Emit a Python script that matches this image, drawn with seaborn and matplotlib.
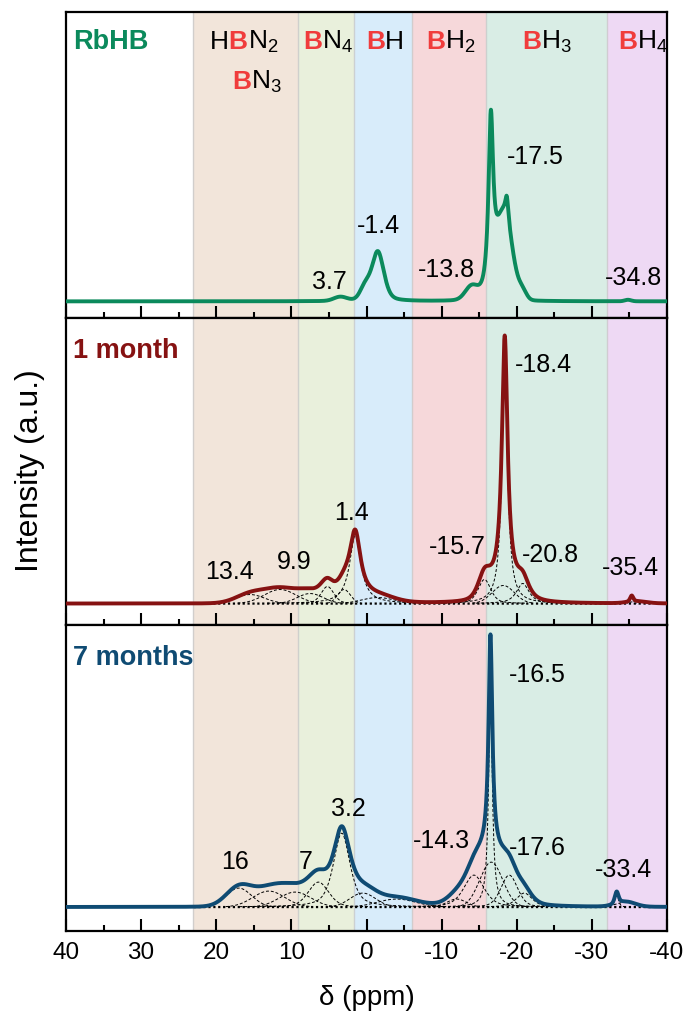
import numpy as np
import pandas as pd
import seaborn as sns
import matplotlib
matplotlib.use("Agg")
import matplotlib.pyplot as plt
from matplotlib.offsetbox import TextArea, HPacker, AnnotationBbox
from matplotlib.ticker import MultipleLocator, FixedLocator, FixedFormatter

sns.set_style("white")
plt.rcParams['font.family'] = ['Liberation Sans', 'DejaVu Sans']
plt.rcParams['mathtext.fontset'] = 'custom'
plt.rcParams['mathtext.rm'] = 'Liberation Sans'
plt.rcParams['mathtext.it'] = 'Liberation Sans:italic'
plt.rcParams['mathtext.bf'] = 'Liberation Sans:bold'
plt.rcParams['axes.unicode_minus'] = False
plt.rcParams['text.color'] = 'black'
plt.rcParams['xtick.color'] = 'black'
plt.rcParams['xtick.labelcolor'] = 'black'

# ---------------- data ----------------
tick_values = [40, 30, 20, 10, 0, -10, -20, -30, -40]
tick_labels = ["40", "30", "20", "10", "0", "-10", "-20", "-30", "-40"]

region_edges = [23.1, 9.1, 1.6, -6.0, -15.9, -32.0, -40.0]
region_names = [("H", "N", "2"), ("", "N", "4"), ("", "H", ""), ("", "H", "2"), ("", "H", "3"), ("", "H", "4")]
extra_region_name = ("", "N", "3")

sample_names = ["RbHB", "1 month", "7 months"]

# peak components: centre (ppm), height, FWHM (ppm), Lorentzian fraction
rbhb_centers = [3.5, 0.2, -1.5, -14.0, -16.55, -18.3, -18.68, -20.8, -34.8]
rbhb_heights = [4, 12, 50, 13, 168, 82, 23, 7, 1.5]
rbhb_widths = [2.0, 1.5, 1.9, 2.0, 0.75, 2.6, 0.5, 1.2, 1.0]
rbhb_eta = [0, 0, 0.4, 0, 1, 0, 1, 0, 0]

m1_centers = [15.5, 11.5, 7.5, 5.2, 3.0, 1.5, -1.5, -15.7, -18.2, -18.4, -20.8, -35.3, -36.0]
m1_heights = [9, 14, 10, 17, 14, 68, 6, 24, 18, 245, 20, 6, 2]
m1_widths = [4.5, 5.0, 4.0, 2.0, 2.0, 1.8, 5.0, 2.0, 3.5, 0.9, 2.0, 0.5, 3.0]
m1_eta = [0, 0, 0, 0.3, 0, 1, 0, 0.5, 0, 1, 0.8, 0.5, 0]

m7_centers = [17.0, 13.0, 9.5, 6.4, 3.3, 0.5, -4.0, -12.0, -14.3, -16.5, -16.6, -19.0, -21.0, -33.3, -34.5]
m7_heights = [19, 16, 15, 25, 74, 14, 8, 8, 32, 214, 45, 32, 14, 12, 5]
m7_widths = [4.0, 5.0, 5.0, 3.2, 2.6, 4.0, 6.0, 3.0, 3.2, 0.6, 3.6, 2.6, 2.5, 0.6, 3.0]
m7_eta = [0, 0, 0, 0.3, 0.6, 0, 0, 0, 0.5, 1, 0, 0.3, 0.5, 0.5, 0]

rbhb_peak_labels = ["-1.4", "3.7", "-13.8", "-17.5", "-34.8"]
m1_peak_labels = ["1.4", "13.4", "9.9", "-15.7", "-20.8", "-35.4", "-18.4"]
m7_peak_labels = ["-16.5", "3.2", "16", "7", "-14.3", "-17.6", "-33.4"]

# ---------------- styling / layout ----------------
region_colors = ["#f2e5da", "#e9f0dc", "#d8ecfa", "#f6d8da", "#d9ede5", "#eed9f4"]
line_colors = ["#0b8a5c", "#861212", "#0f4b73"]
red_b = "#f03c3c"

W, H = 686, 1018
X0, X1 = 66, 667
panel_px = [(12, 319), (319, 624), (624, 931)]
panel_base = [302, 603, 907]

def px_x(px):
    return 40 - (px - X0) * 80.0 / (X1 - X0)

def px_y(i, py):
    return panel_base[i] - py

label_px = [
    [(378, 226), (329, 283), (446, 271), (535, 157), (634, 279)],
    [(352, 513), (230, 572), (294, 562), (457, 547), (550, 555), (630, 568), (543, 365)],
    [(537, 674), (348, 809), (235, 862), (306, 862), (441, 841), (537, 848), (624, 870)],
]
region_label_px = [(244, 42), (328, 42), (385, 42), (451, 42), (547, 42), (643, 42)]
extra_region_px = (257, 82)

fig = plt.figure(figsize=(W / 100, H / 100), dpi=100)
axes = fig.subplots(3, 1, sharex=True)
fig.subplots_adjust(left=X0 / W, right=X1 / W, top=1 - 12 / H, bottom=1 - 931 / H, hspace=0)

x = np.linspace(40, -40, 4001)

def pv(c, h, w, eta):
    g = np.exp(-4 * np.log(2) * ((x - c) / w) ** 2)
    l = 1.0 / (1.0 + (2 * (x - c) / w) ** 2)
    return h * (eta * l + (1 - eta) * g)

sets = [
    (rbhb_centers, rbhb_heights, rbhb_widths, rbhb_eta, rbhb_peak_labels, False),
    (m1_centers, m1_heights, m1_widths, m1_eta, m1_peak_labels, True),
    (m7_centers, m7_heights, m7_widths, m7_eta, m7_peak_labels, True),
]

for i, ax in enumerate(axes):
    cs, hs, ws, es, labs, show_fit = sets[i]
    top_px, bot_px = panel_px[i]
    ax.set_xlim(40, -40)
    ax.set_ylim(panel_base[i] - bot_px, panel_base[i] - top_px)
    for k in range(len(region_colors)):
        ax.axvspan(region_edges[k], region_edges[k + 1], color=region_colors[k], lw=0, zorder=0)
    for e in region_edges[:-1]:
        ax.axvline(e, color="#c9c9c9", lw=1.0, alpha=0.8, zorder=0.5)
    comps = [pv(c, h, w, e) for c, h, w, e in zip(cs, hs, ws, es)]
    total = np.sum(comps, axis=0)
    if show_fit:
        for comp in comps:
            mask = comp > 0.4
            if mask.sum() > 1:
                sns.lineplot(x=x[mask], y=comp[mask], ax=ax, color="black", lw=0.7,
                             linestyle=(0, (3, 2)), estimator=None, sort=False, zorder=2)
        xs = x[(x <= 23) & (x >= -38)]
        sns.lineplot(x=xs, y=np.zeros_like(xs), ax=ax, color="black", lw=1.6,
                     linestyle=(0, (1, 1.2)), estimator=None, sort=False, zorder=3)
    sns.lineplot(x=x, y=total, ax=ax, color=line_colors[i], lw=2.8,
                 estimator=None, sort=False, zorder=4)
    for lab, (px, py) in zip(labs, label_px[i]):
        ax.text(px_x(px), px_y(i, py), lab, fontsize=18, ha="center", va="center", color="black", zorder=6)
    ax.text(px_x(73), px_y(i, [42, 352, 657][i]), sample_names[i], fontsize=19.5, fontweight="bold",
            color=line_colors[i], ha="left", va="center", zorder=6)
    ax.set_yticks([])
    ax.xaxis.set_major_locator(FixedLocator(tick_values))
    ax.xaxis.set_major_formatter(FixedFormatter(tick_labels))
    ax.xaxis.set_minor_locator(MultipleLocator(5))
    ax.tick_params(axis="x", which="major", direction="in", length=9, width=1.5, labelsize=17.5, pad=8,
                   bottom=True, top=False, labelbottom=(i == 2), colors="black")
    ax.tick_params(axis="x", which="minor", direction="in", length=4.5, width=1.5, bottom=True, top=False,
                   colors="black")
    for s in ax.spines.values():
        s.set_linewidth(1.6)
        s.set_color("black")
    ax.set_xlabel("")
    ax.set_ylabel("")

def region_label(ax, parts, pos):
    pre, main, sub = parts
    kids = []
    tp = dict(fontsize=19, color="black")
    if pre:
        kids.append(TextArea(pre, textprops=tp))
    kids.append(TextArea("B", textprops=dict(fontsize=19, color=red_b, fontweight="bold")))
    txt = main + (r"$_{\mathregular{%s}}$" % sub if sub else "")
    kids.append(TextArea(txt, textprops=tp))
    box = HPacker(children=kids, align="baseline", pad=0, sep=0)
    ab = AnnotationBbox(box, (px_x(pos[0]), px_y(0, pos[1])), xycoords="data", frameon=False,
                        box_alignment=(0.5, 0.5), annotation_clip=False, zorder=6)
    ax.add_artist(ab)

for parts, pos in zip(region_names, region_label_px):
    region_label(axes[0], parts, pos)
region_label(axes[0], extra_region_name, extra_region_px)

fig.text(30 / W, 1 - 471 / H, "Intensity (a.u.)", rotation=90, fontsize=23, ha="center", va="center")
fig.text((X0 + X1) / 2 / W, 1 - 998 / H, "δ (ppm)", fontsize=20, ha="center", va="center")

fig.savefig("out.png", dpi=100)
